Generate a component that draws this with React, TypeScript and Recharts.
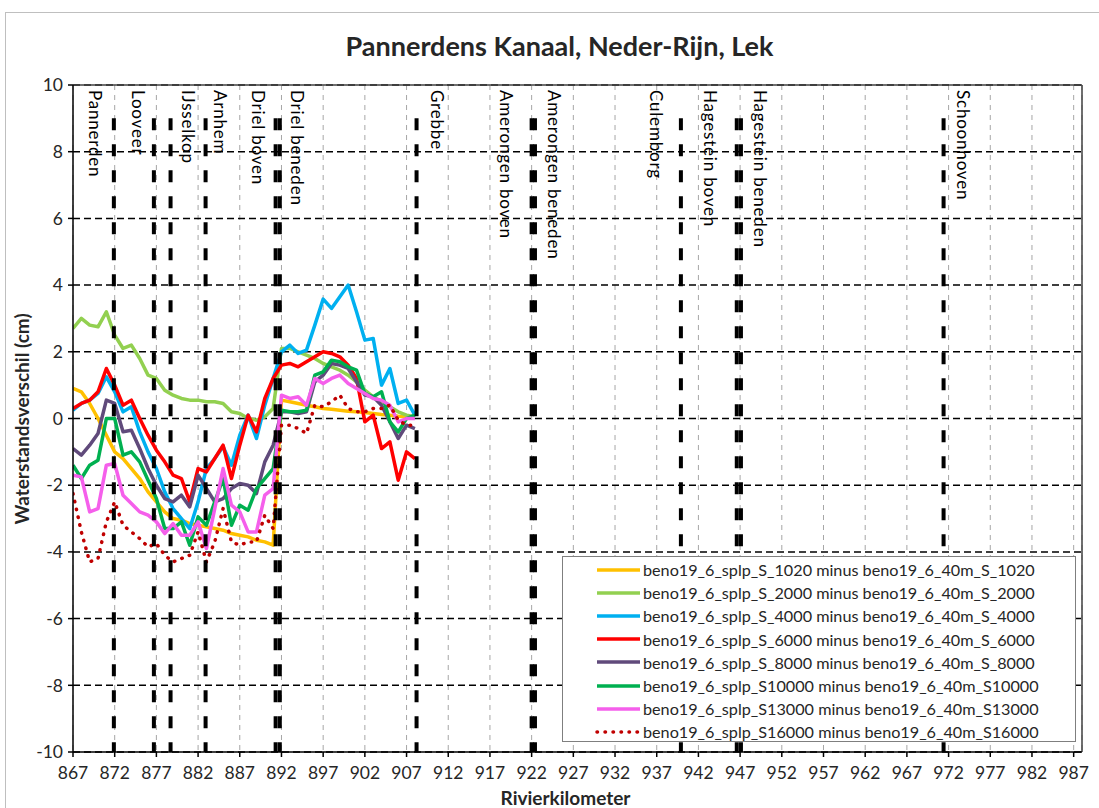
import React from "react";
import { LineChart, Line, XAxis, YAxis, CartesianGrid, ReferenceLine } from "recharts";

// river km along the Pannerdens Kanaal / Neder-Rijn
const KM = [
  867, 868, 869, 870, 871, 872, 873, 874, 875, 876, 877, 878, 879, 880, 881, 882, 883, 884, 885, 886, 887,
  888, 889, 890, 891, 892, 893, 894, 895, 896, 897, 898, 899, 900, 901, 902, 903, 904, 905, 906, 907, 908,
];

const S_1020 = [
  0.9, 0.8, 0.45, 0.0, -0.5, -1.0, -1.2, -1.5, -1.8, -2.2, -2.5, -2.8, -3.0, -3.05, -3.15, -3.2, -3.25, -3.3, -3.35, -3.45, -3.5,
  -3.55, -3.65, -3.7, -3.8, 0.55, 0.5, 0.45, 0.4, 0.35, 0.3, 0.28, 0.25, 0.22, 0.2, 0.18, 0.15, 0.12, 0.1, 0.07, 0.05, null,
];
const S_2000 = [
  2.7, 3.0, 2.8, 2.75, 3.2, 2.5, 2.1, 2.2, 1.8, 1.3, 1.2, 0.85, 0.7, 0.6, 0.55, 0.55, 0.5, 0.5, 0.45, 0.2, 0.15,
  0.0, -0.05, 0.05, 0.3, 2.1, 2.1, 2.0, 1.9, 1.8, 1.65, 1.55, 1.45, 1.3, 1.1, 0.85, 0.65, 0.5, 0.35, 0.2, 0.1, 0.05,
];
const S_4000 = [
  0.25, 0.45, 0.55, 0.75, 1.25, 0.8, 0.2, 0.35, -0.4, -1.0, -1.5, -2.2, -2.7, -3.0, -3.3, -2.5, -1.5, -1.2, -0.85, -1.4, -0.5,
  0.1, -0.6, 0.4, 1.2, 2.0, 2.2, 1.95, 2.05, 2.8, 3.58, 3.3, 3.65, 4.0, 3.2, 2.35, 2.4, 1.0, 1.5, 0.45, 0.55, 0.1,
];
const S_6000 = [
  0.3, 0.45, 0.55, 0.8, 1.5, 1.0, 0.4, 0.55, 0.0, -0.5, -0.95, -1.3, -1.7, -1.8, -2.5, -1.5, -1.6, -1.2, -0.8, -1.8, -0.8,
  0.1, -0.4, 0.6, 1.2, 1.6, 1.65, 1.55, 1.7, 1.85, 2.0, 1.95, 1.85, 1.6, 1.2, -0.1, 0.1, -0.9, -0.7, -1.85, -1.0, -1.2,
];
const S_8000 = [
  -0.9, -1.1, -0.8, -0.45, 0.55, 0.45, -0.4, -0.35, -0.9, -1.5, -2.0, -2.4, -2.5, -2.3, -2.65, -1.7, -2.1, -2.5, -2.4, -2.1, -1.95,
  -2.0, -2.25, -1.3, -0.8, 0.2, 0.2, 0.15, 0.2, 1.1, 1.3, 1.65, 1.6, 1.5, 1.1, 0.7, 0.65, 0.4, -0.1, -0.6, -0.2, -0.3,
];
const S10000 = [
  -1.4, -1.8, -1.4, -1.25, 0.0, 0.0, -1.1, -1.0, -1.3, -1.85, -2.4, -3.3, -3.3, -3.1, -3.8, -2.95, -3.2, -2.5, -1.8, -3.2, -2.6,
  -2.75, -2.1, -1.8, -1.5, 0.25, 0.2, 0.2, 0.25, 1.3, 1.4, 1.75, 1.7, 1.55, 1.45, 0.75, 0.65, 0.8, -0.1, -0.4, 0.0, 0.1,
];
const S13000 = [
  -1.7, -1.75, -2.8, -2.7, -1.4, -1.35, -2.3, -2.55, -2.8, -2.9, -3.1, -3.45, -3.15, -3.5, -3.5, -3.1, -3.9, -2.7, -1.5, -2.6, -2.8,
  -3.4, -3.4, -2.3, -2.1, 0.7, 0.6, 0.65, 0.4, 1.2, 1.05, 1.2, 1.3, 1.05, 0.9, 0.75, 0.6, 0.55, 0.4, -0.1, 0.0, 0.0,
];
const S16000 = [
  -2.25, -3.4, -4.3, -4.2, -3.1, -2.5, -3.2, -3.4, -3.6, -3.85, -3.75, -4.1, -4.3, -4.2, -4.1, -3.4, -4.3, -3.7, -2.7, -3.7, -3.8,
  -3.7, -3.7, -2.9, -3.3, -0.2, -0.2, -0.3, -0.45, 0.4, 0.35, 0.5, 0.7, 0.3, 0.2, 0.2, 0.3, 0.3, 0.4, -0.05, -0.2, -0.2,
];

const SERIES_VALUES = [S_1020, S_2000, S_4000, S_6000, S_8000, S10000, S13000, S16000];
const SERIES_NAMES = [
  "beno19_6_splp_S_1020 minus beno19_6_40m_S_1020",
  "beno19_6_splp_S_2000 minus beno19_6_40m_S_2000",
  "beno19_6_splp_S_4000 minus beno19_6_40m_S_4000",
  "beno19_6_splp_S_6000 minus beno19_6_40m_S_6000",
  "beno19_6_splp_S_8000 minus beno19_6_40m_S_8000",
  "beno19_6_splp_S10000 minus beno19_6_40m_S10000",
  "beno19_6_splp_S13000 minus beno19_6_40m_S13000",
  "beno19_6_splp_S16000 minus beno19_6_40m_S16000",
];
const SERIES_COLORS = ["#FFC000", "#92D050", "#00B0F0", "#FF0000", "#604A7B", "#00B050", "#F55FEB", "#C00000"];

// locations (km) marked with black dashed lines
const LOCATIONS = [
  "Pannerden", "Looveer", "IJsselkop", "Arnhem", "Driel boven", "Driel beneden", "Grebbe",
  "Amerongen boven", "Amerongen beneden", "Culemborg", "Hagestein boven", "Hagestein beneden", "Schoonhoven",
];
const LOCATION_KM = [871.9, 876.7, 878.7, 882.9, 891.3, 891.8, 908.2, 922.0, 922.4, 939.9, 946.6, 947.1, 971.4];

const X_TICKS = [867, 872, 877, 882, 887, 892, 897, 902, 907, 912, 917, 922, 927, 932, 937, 942, 947, 952, 957, 962, 967, 972, 977, 982, 987];
const Y_TICKS = [-10, -8, -6, -4, -2, 0, 2, 4, 6, 8, 10];

// horizontal shift of each location label relative to its line (px)
const LABEL_SHIFT = [-18, -15, 18, 15, -17, 18, 21, -25, 20, -24, -26, 20, 20];

const FONT = "Lato, 'Open Sans', sans-serif";
const TEXT = "#262626";

const rows = KM.map((km, i) => {
  const row: Record<string, number | null> = { km };
  SERIES_VALUES.forEach((vals, s) => {
    row["s" + s] = vals[i] ?? null;
  });
  return row;
});

function LegendBox() {
  return (
    <div
      style={{
        position: "absolute",
        left: 562,
        top: 556,
        width: 514,
        height: 186,
        border: "1px solid #7f7f7f",
        background: "#fff",
        boxSizing: "border-box",
        paddingTop: 1,
        fontFamily: FONT,
      }}
    >
      {SERIES_NAMES.map((name, i) => (
        <div key={name} style={{ height: 23.2, display: "flex", alignItems: "center", fontSize: 16.2, color: TEXT }}>
          <svg width={80} height={10} style={{ flex: "none" }}>
            <line
              x1={34}
              x2={77}
              y1={5}
              y2={5}
              stroke={SERIES_COLORS[i]}
              strokeWidth={3.5}
              strokeDasharray={i === 7 ? "0.5 7.5" : undefined}
              strokeLinecap={i === 7 ? "round" : "butt"}
            />
          </svg>
          <span style={{ whiteSpace: "nowrap" }}>{name}</span>
        </div>
      ))}
    </div>
  );
}

export default function App() {
  return (
    <div style={{ position: "absolute", left: 0, top: 0, width: 1099, height: 808, background: "#fff", fontFamily: FONT, overflow: "hidden" }}>
      <div
        style={{
          position: "absolute",
          left: 5,
          top: 12,
          width: 1100,
          height: 800,
          borderLeft: "1px solid #bfbfbf",
          borderTop: "1px solid #bfbfbf",
        }}
      />
      <div
        style={{
          position: "absolute",
          left: 0,
          width: 1119,
          top: 29,
          textAlign: "center",
          fontSize: 27,
          fontWeight: 700,
          color: TEXT,
        }}
      >
        Pannerdens Kanaal, Neder-Rijn, Lek
      </div>
      <div
        style={{
          position: "absolute",
          left: 21,
          top: 419,
          transform: "translate(-50%, -50%) rotate(-90deg)",
          whiteSpace: "nowrap",
          fontSize: 19,
          fontWeight: 700,
          color: TEXT,
        }}
      >
        Waterstandsverschil (cm)
      </div>
      <div
        style={{
          position: "absolute",
          left: 0,
          width: 1131,
          top: 786,
          textAlign: "center",
          fontSize: 19,
          fontWeight: 700,
          color: TEXT,
        }}
      >
        Rivierkilometer
      </div>
      <div style={{ position: "absolute", left: 0, top: 0 }}>
        <LineChart width={1099} height={808} data={rows} margin={{ top: 85, right: 17, bottom: 0, left: 0 }}>
          <CartesianGrid horizontal={false} stroke="#a6a6a6" strokeDasharray="5 5" />
          <CartesianGrid vertical={false} stroke="#000" strokeWidth={1.5} strokeDasharray="7 4" />
          <XAxis
            dataKey="km"
            type="number"
            domain={[867, 988]}
            ticks={X_TICKS}
            allowDataOverflow
            height={56}
            stroke="#000"
            strokeWidth={1.5}
            tickSize={5}
            tickMargin={10}
            tick={{ fontSize: 17.5, fill: TEXT, fontFamily: FONT }}
          />
          <YAxis
            type="number"
            domain={[-10, 10]}
            ticks={Y_TICKS}
            allowDataOverflow
            width={73}
            stroke="#000"
            strokeWidth={1.5}
            tickSize={5}
            tickMargin={5}
            tick={{ fontSize: 17.5, fill: TEXT, fontFamily: FONT }}
          />
          <ReferenceLine y={10} stroke="#404040" strokeWidth={1.5} />
          <ReferenceLine x={988} stroke="#404040" strokeWidth={1.5} />
          {SERIES_VALUES.map((_, s) => (
            <Line
              key={s}
              dataKey={"s" + s}
              name={SERIES_NAMES[s]}
              stroke={SERIES_COLORS[s]}
              strokeWidth={3.5}
              strokeDasharray={s === 7 ? "0.5 7.5" : undefined}
              strokeLinecap={s === 7 ? "round" : "butt"}
              strokeLinejoin="round"
              dot={false}
              activeDot={false}
              connectNulls={false}
              isAnimationActive={false}
            />
          ))}
          {LOCATION_KM.map((km, i) => (
            <ReferenceLine
              key={LOCATIONS[i]}
              segment={[
                { x: km, y: 9 },
                { x: km, y: -10 },
              ]}
              stroke="#000"
              strokeWidth={4}
              strokeDasharray="12 14"
              label={(props: any) => {
                const vb = props.viewBox || {};
                const x = (vb.x ?? 0) + LABEL_SHIFT[i];
                return (
                  <text
                    transform={`translate(${x}, 90) rotate(90)`}
                    fontSize={17}
                    letterSpacing={0.8}
                    fontFamily={FONT}
                    fill="#000"
                    textAnchor="start"
                    dominantBaseline="central"
                  >
                    {LOCATIONS[i]}
                  </text>
                );
              }}
            />
          ))}
        </LineChart>
      </div>
      <LegendBox />
    </div>
  );
}
